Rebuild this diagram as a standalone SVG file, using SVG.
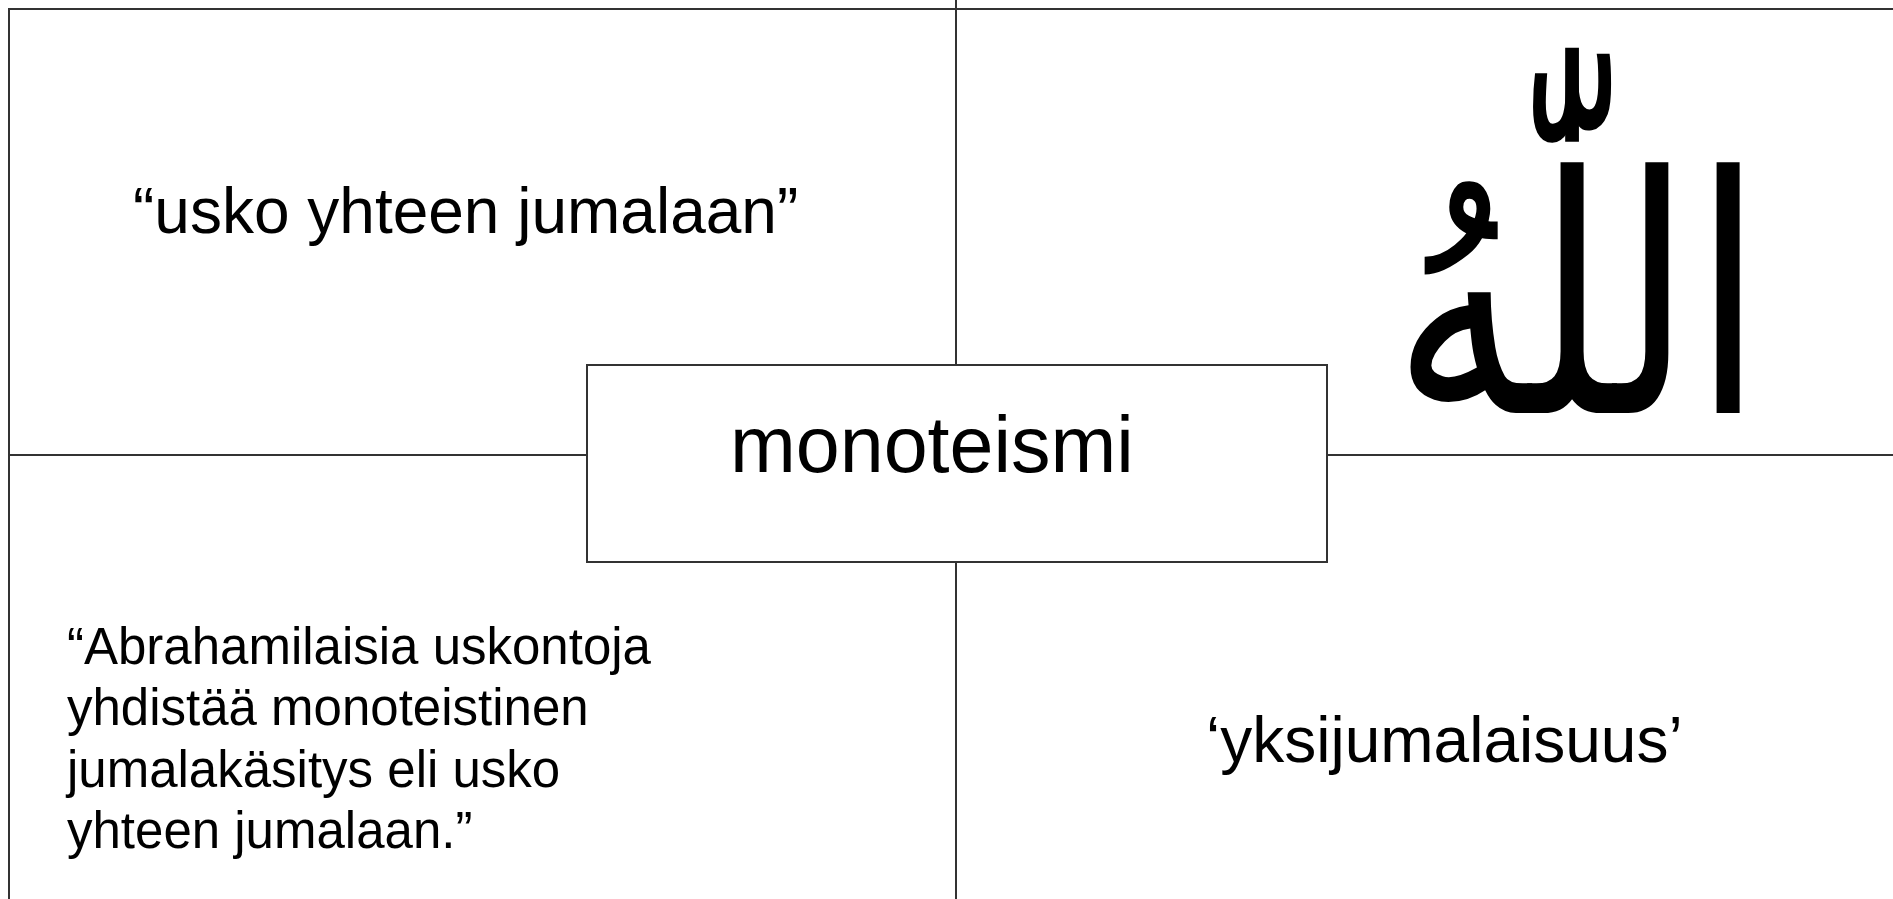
<svg xmlns="http://www.w3.org/2000/svg" width="1893" height="899" viewBox="0 0 1893 899">
<style>
.ln{stroke:#333;stroke-width:2;fill:none}
.t{font-family:"Liberation Sans",Arial,sans-serif;fill:#000}
</style>
<rect x="0" y="0" width="1893" height="899" fill="#fff"/>
<g id="connectors">
<line class="ln" x1="9" y1="9" x2="1893" y2="9"/>
<line class="ln" x1="9" y1="8" x2="9" y2="899"/>
<line class="ln" x1="956" y1="0" x2="956" y2="365"/>
<line class="ln" x1="956" y1="562" x2="956" y2="899"/>
<line class="ln" x1="9" y1="455" x2="587" y2="455"/>
<line class="ln" x1="1327" y1="455" x2="1893" y2="455"/>
</g>
<g id="center">
<rect class="ln" x="587" y="365" width="740" height="197" fill="#fff"/>
<text class="t" x="730" y="472" font-size="79">monoteismi</text>
</g>
<g id="topleft">
<text class="t" x="133" y="233" font-size="64">“usko yhteen jumalaan”</text>
</g>
<g id="topright">
<text transform="translate(1578,413) scale(0.776,1)" x="0" y="0" font-size="330" text-anchor="middle" font-family="'DejaVu Sans',sans-serif" fill="#000">اللّٰهُ</text>
</g>
<g id="bottomleft">
<text class="t" font-size="51"><tspan x="67" y="664">“Abrahamilaisia uskontoja</tspan><tspan x="67" y="725">yhdistää monoteistinen</tspan><tspan x="67" y="787">jumalakäsitys eli usko</tspan><tspan x="67" y="848">yhteen jumalaan.”</tspan></text>
</g>
<g id="bottomright">
<text class="t" x="1206" y="762" font-size="64">‘yksijumalaisuus’</text>
</g>
</svg>
